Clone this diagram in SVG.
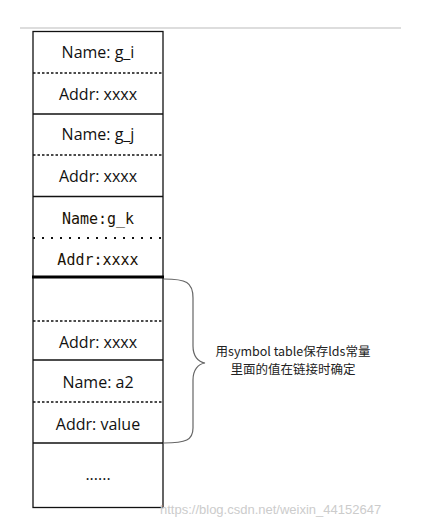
<svg xmlns="http://www.w3.org/2000/svg" width="440" height="525" viewBox="0 0 440 525">
<style>
.t{font-family:"Open Sans","Noto Sans",sans-serif;font-size:16px;fill:#111;text-anchor:middle}
.m{font-family:"DejaVu Sans Mono","Liberation Mono",monospace;font-size:15px;fill:#1a1205;text-anchor:middle}
.solid{stroke:#111;stroke-width:1.3;fill:none}
.dash{stroke:#111;stroke-width:1.3;stroke-dasharray:2.5 2;fill:none}
.note{font-family:"Noto Sans CJK SC","Noto Sans",sans-serif;font-size:12.5px;fill:#222;text-anchor:middle}
</style>
<rect width="440" height="525" fill="#fff"/>
<line x1="20" y1="28" x2="401" y2="28" stroke="#bbb" stroke-width="1"/>
<g id="table">
<rect x="33" y="31.5" width="130" height="476" class="solid" stroke-width="1.6"/>
</g>
<g id="g_i">
<text class="t" x="98" y="58">Name: g_i</text>
<line x1="33" y1="73" x2="163" y2="73" class="dash"/>
<text class="t" x="98" y="100">Addr: xxxx</text>
<line x1="33" y1="114" x2="163" y2="114" class="solid"/>
</g>
<g id="g_j">
<text class="t" x="98" y="140">Name: g_j</text>
<line x1="33" y1="155" x2="163" y2="155" class="dash"/>
<text class="t" x="98" y="182">Addr: xxxx</text>
<line x1="33" y1="196.5" x2="163" y2="196.5" class="solid"/>
</g>
<g id="g_k">
<text class="m" x="98" y="224">Name:g_k</text>
<line x1="33" y1="238" x2="163" y2="238" stroke="#111" stroke-width="2" stroke-dasharray="2 7"/>
<text class="m" x="98" y="265">Addr:xxxx</text>
<line x1="32" y1="277" x2="164" y2="277" stroke="#000" stroke-width="3"/>
</g>
<g id="blank">
<line x1="33" y1="321" x2="163" y2="321" class="dash"/>
<text class="t" x="98" y="348">Addr: xxxx</text>
<line x1="33" y1="360" x2="163" y2="360" class="solid"/>
</g>
<g id="a2">
<text class="t" x="98" y="388">Name: a2</text>
<line x1="33" y1="402" x2="163" y2="402" class="dash"/>
<text class="t" x="98" y="430">Addr: value</text>
<line x1="33" y1="443" x2="163" y2="443" class="solid"/>
</g>
<g id="more">
<text class="t" x="98" y="480">......</text>
</g>
<g id="brace">
<path d="M164 279 C186 279 193 282 193 298 L193 346 C193 356 198 362 205 363 C198 364 193 370 193 380 L193 428 C193 440 186 443 164 443" stroke="#666" stroke-width="1.2" fill="none"/>
<text class="note" x="293" y="356">用symbol table保存lds常量</text>
<text class="note" x="293" y="374">里面的值在链接时确定</text>
</g>
<text x="160" y="514" font-family="Liberation Sans,Arial,sans-serif" font-size="13" fill="#ccc">https://blog.csdn.net/weixin_44152647</text>
</svg>
